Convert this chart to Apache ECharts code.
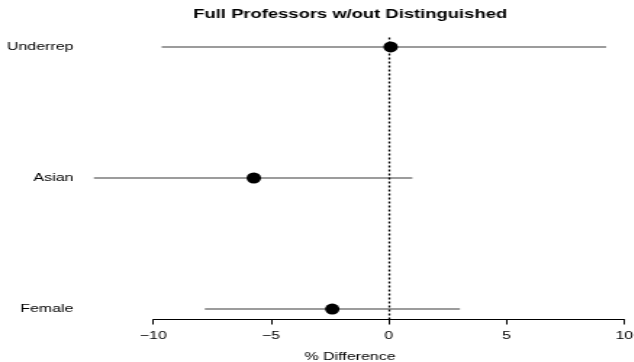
<!DOCTYPE html>
<html>
<head>
<meta charset="utf-8">
<script src="https://cdn.jsdelivr.net/npm/echarts@6/dist/echarts.min.js"></script>
<style>
  html, body { margin: 0; padding: 0; background: #fff; overflow: hidden; }
  #chart { height: 362px; transform-origin: 0 0; }
</style>
</head>
<body>
<div id="chart"></div>
<script>
// Groups listed bottom to top (y = 1, 2, 3)
const groups    = ['Female', 'Asian', 'Underrep'];
const estimates = [-2.40, -5.73, 0.08];
const lower     = [-7.81, -12.52, -9.64];
const upper     = [3.02, 1.00, 9.23];
const xTicks    = [-10, -5, 0, 5, 10];
const titleText = 'Full Professors w/out Distinguished';
const xTitle    = '% Difference';

// The figure is drawn narrow and widened horizontally, giving the wide lettering of the plot.
const STRETCH = 1.45;
const FULL_W = 634;
const W = FULL_W / STRETCH;
const el = document.getElementById('chart');
el.style.width = W + 'px';
el.style.transform = 'scaleX(' + STRETCH + ')';

const FONT = '"Liberation Sans", Arial, Helvetica, sans-serif';

// Plot region (final pixels) and data limits padded by 4% like R's default
const plotLeftPx = 73.4, plotRightPx = 627, plotTop = 36.5, plotBottom = 42.5;
const lo = Math.min(...lower), hi = Math.max(...upper);
const pad = (hi - lo) * 0.04;
const xlim = [lo - pad, hi + pad];
const ylim = [1 - 0.08, groups.length + 0.08];

const left = plotLeftPx / STRETCH;
const right = (FULL_W - plotRightPx) / STRETCH;
const plotW = W - left - right;
const toPx = v => left + (v - xlim[0]) / (xlim[1] - xlim[0]) * plotW;
const axisLeft = toPx(xTicks[0]);
const axisRight = W - toPx(xTicks[xTicks.length - 1]);

const chart = echarts.init(el, null, { renderer: 'canvas' });
chart.setOption({
  animation: false,
  backgroundColor: '#fff',
  textStyle: { fontFamily: FONT },
  title: {
    text: titleText,
    left: left + plotW / 2,
    textAlign: 'center',
    top: 8,
    padding: 0,
    textStyle: { fontFamily: FONT, fontWeight: 'bold', fontSize: 12.7, color: '#000' }
  },
  grid: [
    { left: left, right: right, top: plotTop, bottom: plotBottom, containLabel: false, outerBoundsMode: 'none' },
    { left: axisLeft, right: axisRight, top: plotTop, bottom: plotBottom, containLabel: false, outerBoundsMode: 'none' }
  ],
  xAxis: [
    {
      gridIndex: 0, type: 'value', min: xlim[0], max: xlim[1],
      axisLine: { show: false }, axisTick: { show: false },
      axisLabel: { show: false }, splitLine: { show: false },
      name: xTitle, nameLocation: 'middle', nameGap: 32,
      nameTextStyle: { fontFamily: FONT, fontSize: 11, color: '#000' }
    },
    {
      gridIndex: 1, type: 'value', min: xTicks[0], max: xTicks[xTicks.length - 1], interval: 5,
      axisLine: { show: true, lineStyle: { color: '#000', width: 1.2 } },
      axisTick: { show: true, length: 5, lineStyle: { color: '#000', width: 1 } },
      axisLabel: {
        fontFamily: FONT, fontSize: 11, color: '#000', margin: 11,
        formatter: v => String(v).replace('-', '\u2212')
      },
      splitLine: { show: false }
    }
  ],
  yAxis: [
    {
      gridIndex: 0, type: 'value', min: ylim[0], max: ylim[1],
      axisLine: { show: false }, axisTick: { show: false }, splitLine: { show: false },
      axisLabel: {
        customValues: groups.map((g, i) => i + 1),
        formatter: v => groups[Math.round(v) - 1] || '',
        fontFamily: FONT, fontSize: 11, color: '#000', margin: 0
      }
    },
    {
      gridIndex: 1, type: 'value', min: ylim[0], max: ylim[1], show: false
    }
  ],
  series: [
    {
      type: 'custom',
      xAxisIndex: 0, yAxisIndex: 0,
      z: 1,
      data: groups.map((g, i) => [lower[i], upper[i], i + 1]),
      encode: { x: [0, 1], y: 2 },
      renderItem: (params, api) => {
        const y = api.value(2);
        const a = api.coord([api.value(0), y]);
        const b = api.coord([api.value(1), y]);
        return {
          type: 'line',
          shape: { x1: a[0], y1: a[1], x2: b[0], y2: b[1] },
          style: { stroke: '#9c9c9c', lineWidth: 2 }
        };
      },
      silent: true
    },
    {
      type: 'scatter',
      xAxisIndex: 0, yAxisIndex: 0,
      z: 2,
      data: [],
      markLine: {
        silent: true,
        symbol: ['none', 'none'],
        label: { show: false },
        lineStyle: { color: '#000', type: [2, 2], width: 1.3 },
        data: [{ xAxis: 0 }]
      }
    },
    {
      type: 'scatter',
      xAxisIndex: 0, yAxisIndex: 0,
      z: 3,
      symbol: 'circle',
      symbolSize: [10, 11],
      itemStyle: { color: '#000', opacity: 1 },
      data: estimates.map((e, i) => [e, i + 1]),
      silent: true
    }
  ]
});
</script>
</body>
</html>
